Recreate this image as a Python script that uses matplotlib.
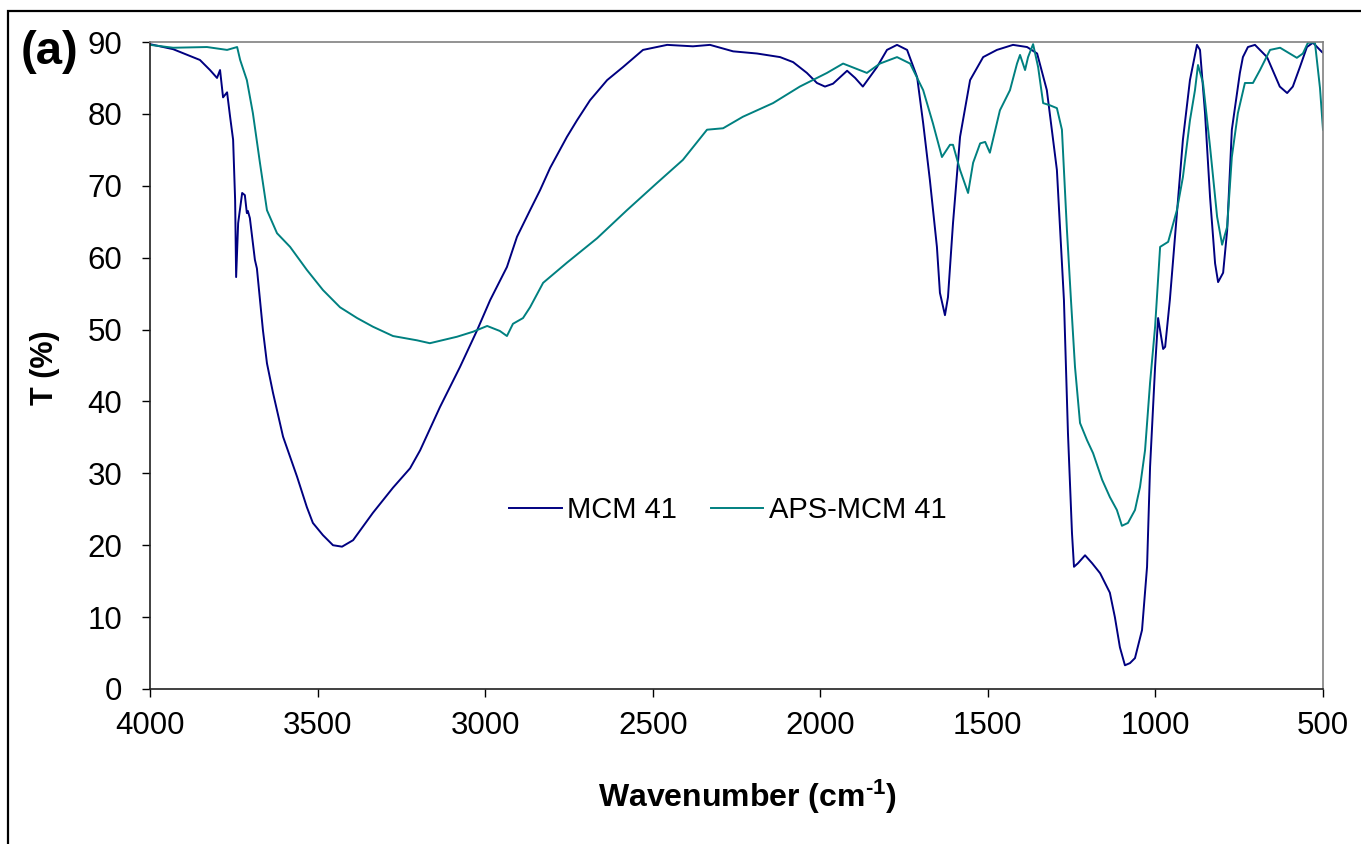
import matplotlib
matplotlib.use("Agg")
import matplotlib.pyplot as plt
from matplotlib.patches import Rectangle

plt.rcParams['font.family'] = ['Liberation Sans', 'DejaVu Sans']
plt.rcParams['mathtext.fontset'] = 'custom'
plt.rcParams['mathtext.rm'] = 'Liberation Sans:bold'
plt.rcParams['mathtext.it'] = 'Liberation Sans:bold'
plt.rcParams['mathtext.bf'] = 'Liberation Sans:bold'

# MCM 41 spectrum (wavenumber cm-1, transmittance %)
mcm_wn = [4000, 3931, 3851, 3821, 3800, 3791, 3782, 3770, 3761, 3752, 3746, 3743,
          3737, 3725, 3717, 3711, 3708, 3702, 3687, 3681, 3663, 3651, 3633, 3603,
          3561, 3532, 3514, 3484, 3454, 3427, 3394, 3335, 3275, 3224, 3194, 3135,
          3075, 3024, 2985, 2935, 2905, 2866, 2836, 2806, 2756, 2726, 2687, 2636,
          2589, 2529, 2457, 2380, 2329, 2260, 2189, 2120, 2081, 2040, 2010, 1986,
          1962, 1920, 1896, 1873, 1831, 1801, 1771, 1741, 1711, 1693, 1673, 1652,
          1643, 1628, 1619, 1604, 1583, 1553, 1514, 1473, 1425, 1383, 1353, 1324,
          1294, 1273, 1261, 1249, 1243, 1231, 1210, 1189, 1165, 1150, 1136, 1121,
          1106, 1091, 1076, 1061, 1040, 1025, 1016, 1001, 992, 977, 971, 957,
          936, 918, 897, 876, 867, 852, 837, 822, 813, 798, 786, 772,
          748, 739, 724, 703, 667, 629, 607, 590, 569, 548, 530, 503, 500]
mcm_t = [89.7, 89.0, 87.5, 86.1, 85.0, 86.1, 82.3, 83.0, 79.6, 76.4, 68.0, 57.3,
         64.8, 69.0, 68.7, 66.2, 66.5, 65.5, 59.7, 58.5, 49.9, 45.3, 41.2, 35.1,
         29.5, 25.3, 23.1, 21.4, 20.0, 19.8, 20.7, 24.5, 28.0, 30.7, 33.2, 39.2,
         44.8, 49.9, 54.1, 58.7, 62.9, 66.6, 69.4, 72.5, 76.8, 79.1, 81.9, 84.7,
         86.5, 88.9, 89.6, 89.4, 89.6, 88.7, 88.4, 87.9, 87.2, 85.7, 84.3, 83.8,
         84.2, 86.0, 85.0, 83.8, 86.5, 88.9, 89.6, 88.9, 85.1, 78.7, 70.8, 61.5,
         55.1, 52.0, 54.5, 64.8, 76.8, 84.7, 87.9, 88.9, 89.6, 89.3, 88.4, 83.3,
         72.2, 54.1, 35.6, 21.7, 17.0, 17.5, 18.6, 17.5, 16.1, 14.7, 13.4, 10.0,
         5.8, 3.3, 3.6, 4.3, 8.2, 17.0, 30.9, 44.8, 51.6, 47.3, 47.6, 54.1,
         66.2, 76.4, 84.7, 89.6, 88.9, 80.1, 68.4, 59.2, 56.6, 57.9, 63.8, 77.8,
         85.7, 87.9, 89.3, 89.6, 87.9, 83.8, 82.9, 83.8, 86.5, 89.3, 89.9, 88.6, 88.5]

# APS-MCM 41 spectrum
aps_wn = [4000, 3931, 3830, 3770, 3740, 3731, 3711, 3693, 3672, 3651, 3621, 3582,
          3532, 3484, 3433, 3382, 3335, 3275, 3203, 3165, 3084, 3036, 2994, 2956,
          2935, 2917, 2887, 2866, 2827, 2756, 2666, 2577, 2487, 2410, 2338, 2290,
          2231, 2141, 2061, 1980, 1932, 1861, 1822, 1771, 1732, 1693, 1664, 1637,
          1613, 1604, 1583, 1559, 1544, 1523, 1508, 1494, 1464, 1434, 1413, 1404,
          1389, 1380, 1365, 1350, 1335, 1315, 1294, 1279, 1264, 1252, 1240, 1225,
          1204, 1186, 1159, 1136, 1115, 1100, 1082, 1061, 1046, 1031, 1016, 1001,
          986, 962, 936, 918, 897, 882, 873, 858, 837, 816, 801, 786,
          772, 754, 733, 709, 688, 658, 628, 578, 560, 545, 524, 509, 500]
aps_t = [89.6, 89.2, 89.3, 88.9, 89.3, 87.5, 84.7, 80.1, 73.2, 66.6, 63.4, 61.5,
         58.3, 55.5, 53.1, 51.6, 50.4, 49.1, 48.5, 48.1, 49.0, 49.7, 50.5, 49.8,
         49.1, 50.8, 51.6, 53.1, 56.5, 59.3, 62.7, 66.6, 70.4, 73.6, 77.8, 78.0,
         79.6, 81.5, 83.8, 85.7, 87.0, 85.7, 87.0, 87.9, 87.0, 83.3, 78.7, 74.0,
         75.7, 75.7, 72.2, 69.0, 73.2, 75.9, 76.1, 74.6, 80.5, 83.3, 87.0, 88.2,
         86.1, 87.9, 89.7, 86.5, 81.5, 81.2, 80.8, 77.8, 63.8, 54.1, 44.8, 37.0,
         34.6, 32.8, 29.1, 26.7, 24.9, 22.7, 23.1, 24.9, 28.1, 33.2, 42.6, 50.4,
         61.5, 62.2, 66.6, 71.2, 79.1, 83.3, 86.8, 84.3, 75.4, 65.7, 61.8, 64.3,
         74.0, 80.1, 84.3, 84.3, 86.1, 88.9, 89.2, 87.8, 88.4, 89.9, 89.9, 83.6, 77.8]

series_labels = ["MCM 41", "APS-MCM 41"]
x_ticks = [4000, 3500, 3000, 2500, 2000, 1500, 1000, 500]
y_ticks = [0, 10, 20, 30, 40, 50, 60, 70, 80, 90]

W, H = 1361, 844
fig = plt.figure(figsize=(W / 100, H / 100), dpi=100)
fig.patch.set_facecolor('white')

# outer frame
fig.patches.append(Rectangle((8 / W, -0.1), 2.0, 1 - 11 / H + 0.1,
                             transform=fig.transFigure, fill=False,
                             edgecolor='black', linewidth=1.6))

ax = fig.add_axes([150 / W, 1 - 689 / H, (1323 - 150) / W, (689 - 42) / H])
ax.plot(mcm_wn, mcm_t, color='#000080', linewidth=1.4, label=series_labels[0])
ax.plot(aps_wn, aps_t, color='#008080', linewidth=1.4, label=series_labels[1])

ax.set_xlim(4000, 500)
ax.set_ylim(0, 90)
ax.set_xticks(x_ticks)
ax.set_yticks(y_ticks)
ax.set_xticklabels([str(v) for v in x_ticks])
ax.set_yticklabels([str(v) for v in y_ticks])
ax.tick_params(axis='both', direction='out', length=6, width=1, colors='black',
               labelsize=22.5)
ax.tick_params(axis='y', pad=14)
ax.tick_params(axis='x', pad=10)

for s in ['top', 'right']:
    ax.spines[s].set_color('#808080')
    ax.spines[s].set_linewidth(1.2)
for s in ['left', 'bottom']:
    ax.spines[s].set_color('#202020')
    ax.spines[s].set_linewidth(1.2)

ax.set_xlabel('Wavenumber (cm$^{\\text{-1}}$)', fontsize=23, fontweight='bold')
ax.xaxis.set_label_coords((747 - 150) / 1173, (689 - 797) / 647)
ax.xaxis.label.set_va('center')
ax.set_ylabel('T (%)', fontsize=22, fontweight='bold')
ax.yaxis.set_label_coords((45 - 150) / 1173, (689 - 368) / 647)
ax.yaxis.label.set_va('center')

leg = ax.legend(loc='center', bbox_to_anchor=((728 - 150) / 1173, (689 - 510) / 647),
                ncol=2, frameon=False, fontsize=21, handlelength=1.8,
                handletextpad=0.2, columnspacing=1.15, borderpad=0)

fig.text(21 / W, 1 - 64 / H, '(a)', fontsize=34, fontweight='bold',
         ha='left', va='baseline')

fig.savefig('out.png', dpi=100, facecolor='white')
